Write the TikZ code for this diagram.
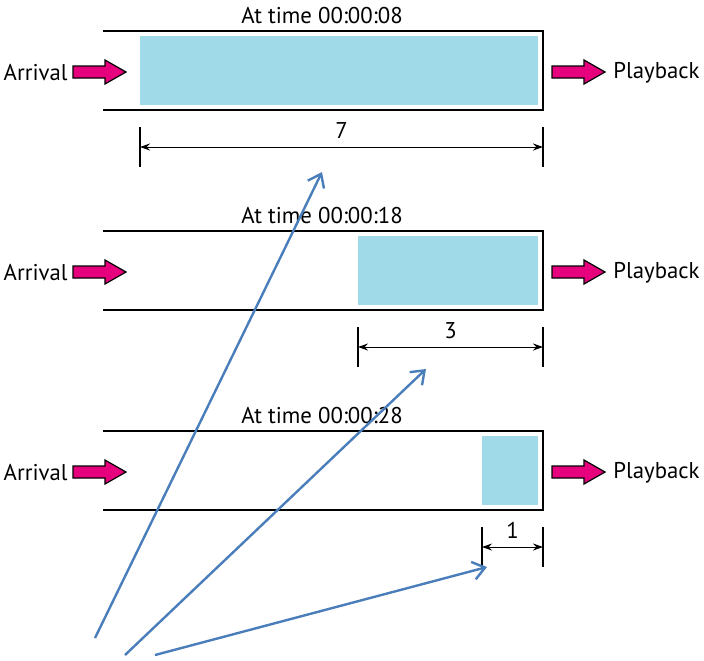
\documentclass[tikz,border=0pt]{standalone}
\usepackage{fontspec}
\setmainfont{PT Sans}
\usetikzlibrary{arrows.meta}
\definecolor{bufblue}{RGB}{160,217,232}
\definecolor{flowpink}{RGB}{230,0,126}
\definecolor{markblue}{RGB}{74,126,187}
\tikzset{
  wall/.style={line width=1pt},
  dimline/.style={line width=0.5pt},
  dimtick/.style={line width=0.9pt},
  flowarrow/.style={fill=flowpink,draw=black,line width=0.6pt,line join=miter},
  pointer/.style={draw=markblue,line width=1.2pt,-{Straight Barb[length=6pt,width=9pt]}},
  lbl/.style={font=\fontsize{11.4}{13}\selectfont,inner sep=0pt}
}
% block arrow: left end x, middle y
\newcommand{\pinkarrow}[2]{%
  \filldraw[flowarrow] (#1,#2-6) -- ++(32,0) -- ++(0,-6) -- ++(21,12)
    -- ++(-21,12) -- ++(0,-6) -- ++(-32,0) -- cycle;}
\begin{document}
\begin{tikzpicture}[x=0.5pt,y=-0.5pt]
  \useasboundingbox (0,0) rectangle (704,660);
  \foreach \n/\y/\xl/\t/\len in {1/0/140/08/7, 2/200/358/18/3, 3/400/482/28/1}{
    % buffer at time \t
    \fill[bufblue] (\xl,36+\y) rectangle (538,105+\y);
    \draw[wall] (103,31+\y) -- (543,31+\y) -- (543,110+\y) -- (103,110+\y);
    \node[lbl] (time\n) at (322,16+\y) {At time 00:00:\t};
    \node[lbl,anchor=east] (in\n) at (68,73+\y) {Arrival};
    \node[lbl,anchor=west] (out\n) at (613,73+\y) {Playback};
    \pinkarrow{73}{72+\y}
    \pinkarrow{552}{72+\y}
    % occupied length
    \draw[dimtick] (\xl,127+\y) -- (\xl,167+\y) (543,127+\y) -- (543,167+\y);
    \coordinate (dl\n) at (\xl,147+\y);
    \coordinate (dr\n) at (543,147+\y);
    \draw[dimline,{Stealth[length=5pt,width=3.5pt]}-{Stealth[length=5pt,width=3.5pt]}]
      (dl\n) -- (dr\n) node[lbl,midway,above=4pt] (len\n) {\len};
  }
  % pointers
  \coordinate (s1) at (95,638);
  \coordinate (s2) at (125,655);
  \coordinate (s3) at (155,655);
  \coordinate (p1) at (322,172);
  \coordinate (p2) at (426,369);
  \coordinate (p3) at (487,567);
  \draw[pointer] (s1) -- (p1);
  \draw[pointer] (s2) -- (p2);
  \draw[pointer] (s3) -- (p3);
\end{tikzpicture}
\end{document}
